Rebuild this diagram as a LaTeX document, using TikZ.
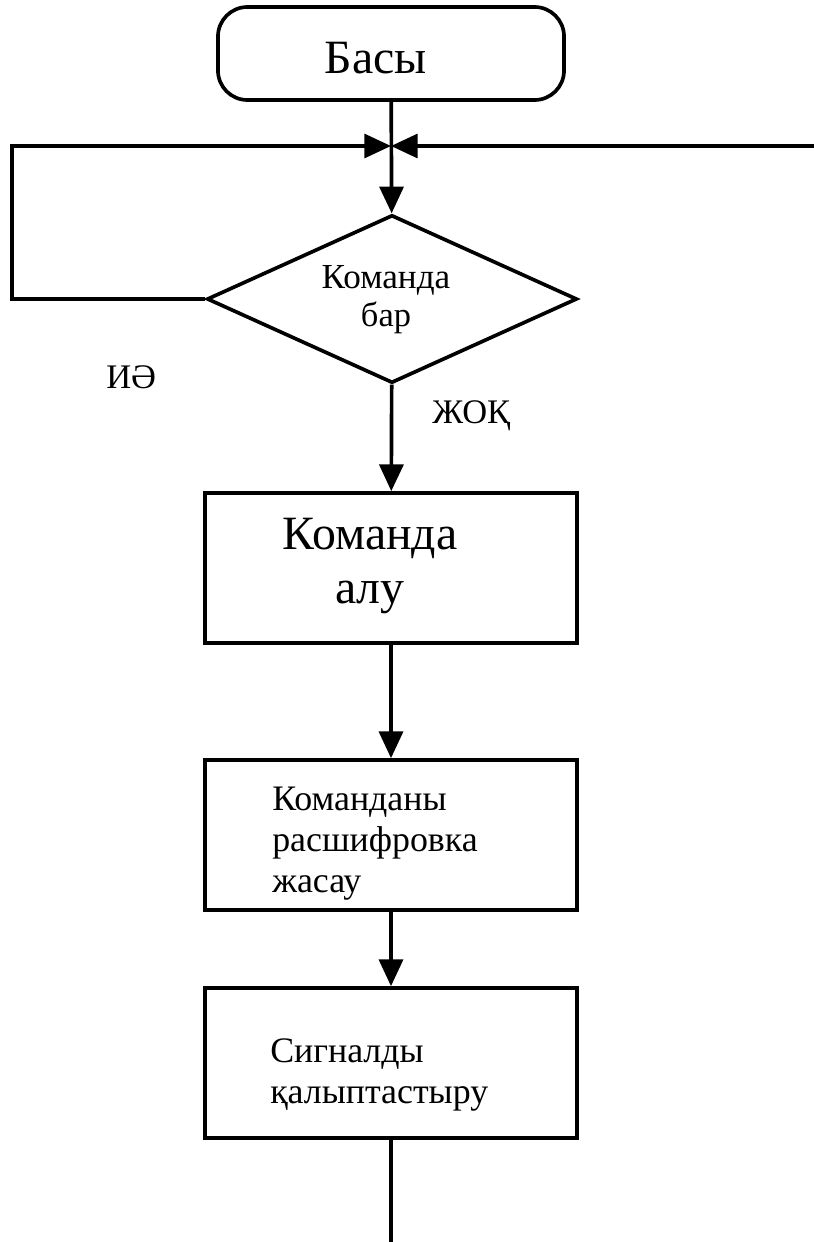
\documentclass[tikz,border=0pt]{standalone}
\usepackage{fontspec}
\setmainfont{Liberation Serif}
\usetikzlibrary{shapes.geometric,arrows.meta}

\tikzset{
  flowline/.style={line width=2.6pt, -{Triangle[length=19pt,width=17pt]}},
  plainline/.style={line width=2.6pt},
  startbox/.style={draw, line width=2.6pt, rounded corners=21pt, minimum width=8.65cm, minimum height=2.325cm, inner sep=0pt},
  decision/.style={draw, diamond, line width=2.6pt, minimum width=9.25cm, minimum height=4.2cm, inner sep=0pt},
  stepbox/.style={draw, rectangle, line width=2.6pt, minimum width=9.3cm, minimum height=3.75cm, inner sep=0pt},
  bigtext/.style={font=\fontsize{34pt}{37.7pt}\selectfont, inner sep=0pt},
  midtext/.style={font=\fontsize{25.5pt}{29pt}\selectfont, inner sep=0pt},
  smalltext/.style={font=\fontsize{24.5pt}{27pt}\selectfont, inner sep=0pt}
}

\begin{document}
\begin{tikzpicture}[x=0.025cm, y=-0.025cm]
    \useasboundingbox (0,0) rectangle (814,1242);

    % Start
    \node[startbox] (start) at (391,53.5) {};
    \node[bigtext, anchor=base] (starttxt) at (376,74) {Басы};

    % Decision
    \node[decision] (check) at (392,299) {};
    \node[smalltext, align=center, anchor=base] (checktxt) at (386,326) {\fontsize{25pt}{27pt}\selectfont Команда\\бар};
    \node[smalltext, anchor=base west] (yes) at (106,388) {ИӘ};
    \node[smalltext, anchor=base west] (no) at (432,423) {ЖОҚ};

    % Blocks
    \node[stepbox] (fetch) at (391,568) {};
    \node[bigtext, align=center, anchor=base] (fetchtxt) at (370,603) {Команда\\алу};

    \node[stepbox] (decode) at (391,835) {};
    \node[midtext, align=left, anchor=base west] (decodetxt) at (272,892) {Команданы\\расшифровка\\жасау};

    \node[stepbox] (signal) at (391,1063) {};
    \node[midtext, align=left, anchor=base west] (signaltxt) at (270,1103) {Сигналды\\қалыптастыру};

    % Junction and loose ends
    \coordinate (merge) at (391,146);
    \coordinate (leftturn) at (12,146);
    \coordinate (rightin) at (814,146);
    \coordinate (exit) at (391,1242);

    % Connectors
    \draw[flowline] (start) -- (check);
    \draw[flowline] (check.west) -| (leftturn) -- (merge);
    \draw[flowline] (rightin) -- (merge);
    \draw[flowline] (check) -- (fetch);
    \draw[flowline] (fetch) -- (decode);
    \draw[flowline] (decode) -- (signal);
    \draw[plainline] (signal) -- (exit);
\end{tikzpicture}
\end{document}
